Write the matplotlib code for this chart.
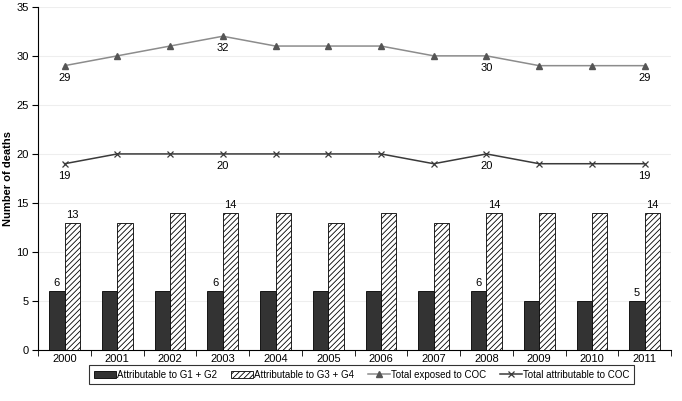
import matplotlib
matplotlib.use("Agg")
import matplotlib.pyplot as plt
import numpy as np

plt.rcParams['font.family'] = ['Liberation Sans', 'DejaVu Sans']
plt.rcParams['font.size'] = 8
plt.rcParams['hatch.color'] = '#808080'
plt.rcParams['hatch.linewidth'] = 0.6

years = ['2000', '2001', '2002', '2003', '2004', '2005', '2006', '2007', '2008', '2009', '2010', '2011']
g1g2 = [6, 6, 6, 6, 6, 6, 6, 6, 6, 5, 5, 5]
g3g4 = [13, 13, 14, 14, 14, 13, 14, 13, 14, 14, 14, 14]
total_exposed = [29, 30, 31, 32, 31, 31, 31, 30, 30, 29, 29, 29]
total_attr = [19, 20, 20, 20, 20, 20, 20, 19, 20, 19, 19, 19]
label_idx = [0, 3, 8, 11]

fig = plt.figure(figsize=(6.82, 4.01), dpi=100)
ax = fig.add_axes([0.056, 0.127, 0.928, 0.856])

x = np.arange(len(years))
w = 0.29
b1 = ax.bar(x - w/2, g1g2, w, color='#333333', edgecolor='black', linewidth=0.6,
            label='Attributable to G1 + G2', zorder=3)
b2 = ax.bar(x + w/2, g3g4, w, color='white', edgecolor='black', linewidth=0.6,
            hatch='//////', label='Attributable to G3 + G4', zorder=3)
l1, = ax.plot(x, total_exposed, color='#8c8c8c', linewidth=1.1, marker='^',
              markersize=5, markerfacecolor='#555555', markeredgecolor='#555555',
              label='Total exposed to COC', zorder=4)
l2, = ax.plot(x, total_attr, color='#3a3a3a', linewidth=1.1, marker='x',
              markersize=5, markeredgewidth=0.9, label='Total attributable to COC', zorder=4)

for i in label_idx:
    ax.text(x[i] - w/2, g1g2[i] + 0.3, str(g1g2[i]), ha='center', va='bottom')
    ax.text(x[i] + w/2, g3g4[i] + 0.3, str(g3g4[i]), ha='center', va='bottom')
    ax.text(x[i], total_exposed[i] - 0.7, str(total_exposed[i]), ha='center', va='top')
    ax.text(x[i], total_attr[i] - 0.7, str(total_attr[i]), ha='center', va='top')

ax.set_xlim(-0.5, len(years) - 0.5)
ax.set_ylim(0, 35)
ax.set_yticks(range(0, 36, 5))
ax.set_xticks(x)
ax.set_xticklabels(years)
ax.set_xticks(np.arange(-0.5, len(years), 1), minor=True)
ax.tick_params(axis='x', which='major', length=0, pad=3)
ax.tick_params(axis='x', which='minor', length=4, direction='out')
ax.tick_params(axis='y', length=4, direction='out', pad=3)
ax.yaxis.grid(True, color='#eeeeee', linewidth=0.8, zorder=0)
ax.set_axisbelow(True)
ax.spines['top'].set_visible(False)
ax.spines['right'].set_visible(False)
ax.set_ylabel('Number of deaths', fontweight='bold', labelpad=2)

leg = fig.legend(handles=[b1, b2, l1, l2], loc='lower center', ncol=4,
                 bbox_to_anchor=(0.53, 0.03), frameon=True, fancybox=False,
                 edgecolor='black', handlelength=2.3, handletextpad=0.1,
                 columnspacing=1.4, borderpad=0.45, fontsize=7)
leg.get_frame().set_linewidth(0.8)

fig.savefig('out.png', dpi=100)
